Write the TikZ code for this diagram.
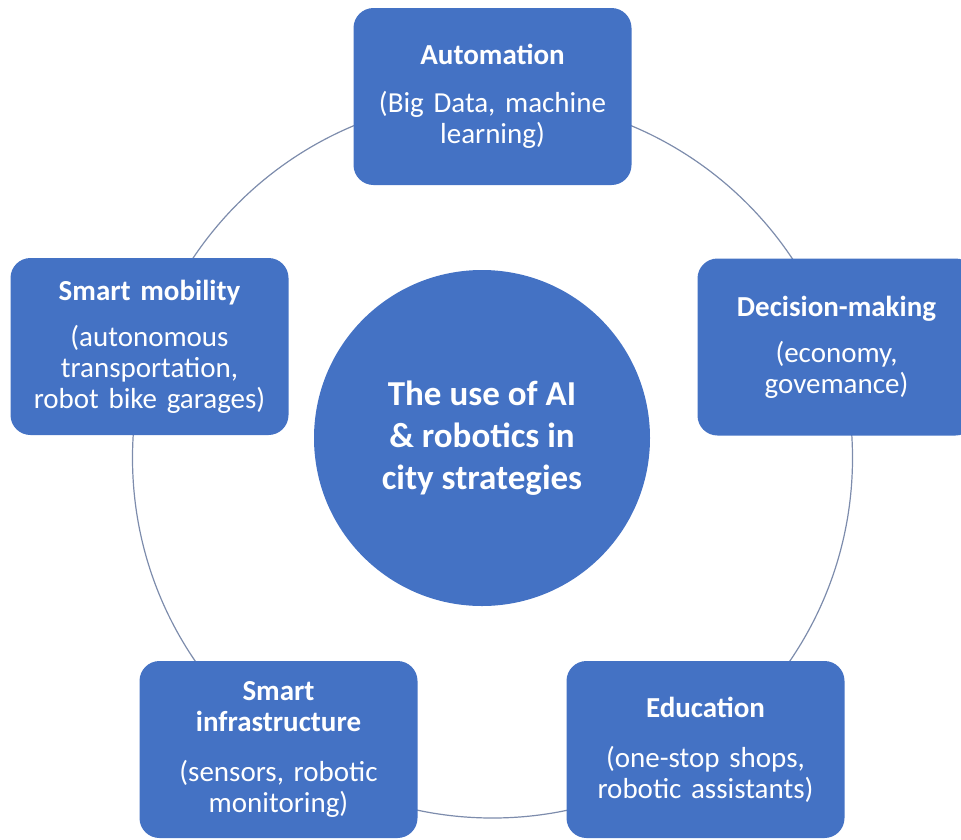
\documentclass[tikz,border=0pt]{standalone}
\usepackage{fontspec}
\setmainfont{Carlito}
\definecolor{boxblue}{RGB}{68,114,196}
\definecolor{ringgrey}{RGB}{125,140,172}

\begin{document}
\begin{tikzpicture} [x = 1pt, y = -1pt,
  topic/.style = {fill = boxblue, rounded corners = 20pt, minimum width = 278pt, minimum height = 177pt, text width = 270pt, inner sep = 0pt, align = center, text = white, font = \fontsize{29}{31}\selectfont},
  hub/.style = {circle, fill = boxblue, minimum size = 336pt, inner sep = 0pt, align = center, text = white, font = \bfseries\fontsize{35}{42}\selectfont}]
\useasboundingbox (0.0, 0.0) rectangle (961.0, 839.0);
\coordinate (ringcentre) at (492.5, 458.0);
\draw[ringgrey, line width = 1.2pt] (ringcentre) circle [radius = 360pt];
\node[hub] (hub) at (482.0, 438.0){The use of AI\\ \& robotics in\\ city strategies};
\node[topic] (automation) at (492.5, 96.5){\textbf{Automation}\\[17pt] (Big Data, machine\\ learning)};
\node[topic] (decision) at (836.5, 347.0){\textbf{Decision-making}\\[15pt] (economy,\\ govemance)};
\node[topic] (mobility) at (149.5, 346.5){\textbf{Smart mobility}\\[15pt] (autonomous\\ transportation,\\ robot bike garages)};
\node[topic] (infrastructure) at (278.5, 749.5){\textbf{Smart}\\ \textbf{infrastructure}\\[19pt] (sensors, robotic\\ monitoring)};
\node[topic] (education) at (705.5, 749.5){\textbf{Education}\\[19pt] (one-stop shops,\\ robotic assistants)};
\end{tikzpicture}
\end{document}
